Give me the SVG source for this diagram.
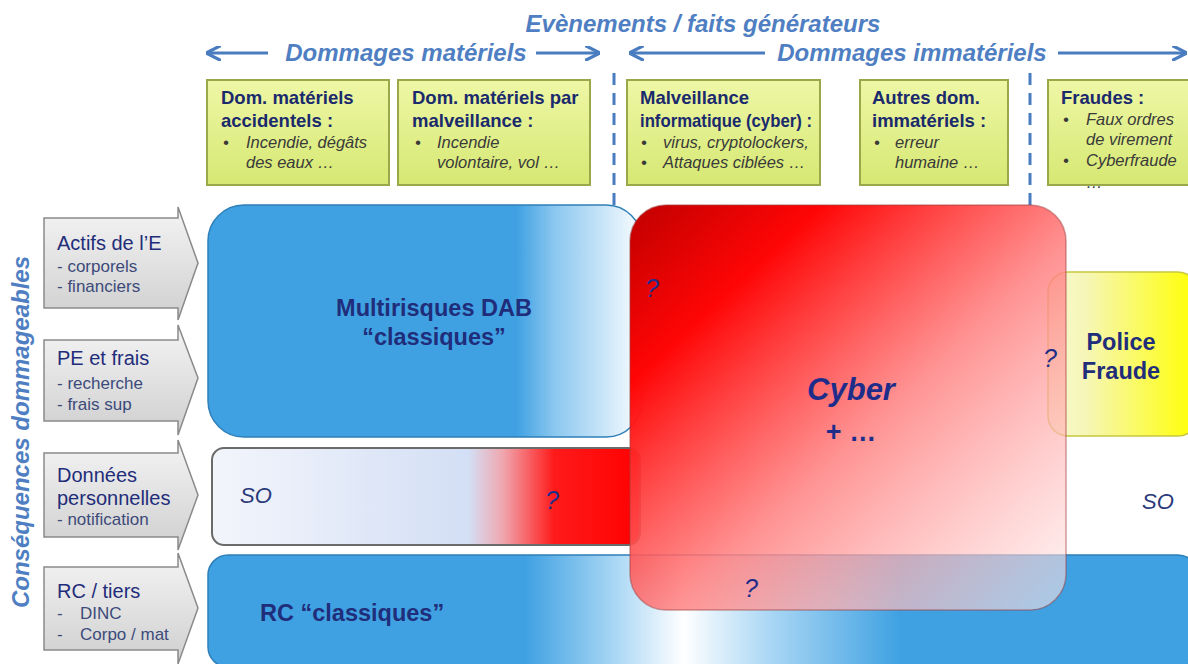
<svg xmlns="http://www.w3.org/2000/svg" width="1188" height="664" viewBox="0 0 1188 664">
<style>
.hdr{font-family:"Liberation Sans",Arial,sans-serif;font-weight:bold;font-style:italic;fill:#4f7fc2}
.bt{font-family:"Liberation Sans",Arial,sans-serif;font-weight:bold;font-size:18.5px;fill:#1a2a6c}
.bi{font-family:"Liberation Sans",Arial,sans-serif;font-style:italic;font-size:16.5px;fill:#3a3a3a}
.lt{font-family:"Liberation Sans",Arial,sans-serif;font-size:20px;fill:#1f2d7a}
.ls{font-family:"Liberation Sans",Arial,sans-serif;font-size:17px;fill:#3c4a7a}
.big{font-family:"Liberation Sans",Arial,sans-serif;font-weight:bold;font-size:23.5px;fill:#1f2d7a}
.q{font-family:"Liberation Sans",Arial,sans-serif;font-style:italic;font-size:25px;fill:#1f2d8a}
.so{font-family:"Liberation Sans",Arial,sans-serif;font-style:italic;font-size:22px;fill:#2a3a7a}
.ybox{fill:url(#yg);stroke:#9aa84a;stroke-width:2}
.garrow{fill:url(#gg);stroke:#8a8a8a;stroke-width:1.5}
.conn{stroke:#4a7cc0;stroke-width:3;fill:none;marker-end:url(#ah)}
.dash{stroke:#4a7cc0;stroke-width:3;stroke-dasharray:12,8;fill:none}
</style>
<defs>
<marker id="ah" viewBox="0 0 10 10" refX="8" refY="5" markerWidth="5" markerHeight="5" orient="auto-start-reverse" markerUnits="strokeWidth">
<path d="M0,0 L10,5 L0,10" fill="none" stroke="#4a7cc0" stroke-width="2.2"/>
</marker>
<linearGradient id="yg" x1="0" y1="0" x2="0" y2="1">
<stop offset="0" stop-color="#eef7a6"/><stop offset="1" stop-color="#d6e872"/>
</linearGradient>
<linearGradient id="gg" x1="0" y1="0" x2="0" y2="1">
<stop offset="0" stop-color="#f4f4f4"/><stop offset="1" stop-color="#cfcfcf"/>
</linearGradient>
<linearGradient id="dab" x1="0" y1="0" x2="1" y2="0">
<stop offset="0" stop-color="#3fa1e2"/><stop offset="0.71" stop-color="#3fa1e2"/><stop offset="0.8" stop-color="#8cc8f0"/><stop offset="0.97" stop-color="#eaf5fc"/><stop offset="1" stop-color="#f4f9fd"/>
</linearGradient>
<linearGradient id="sog" x1="0" y1="0" x2="1" y2="0">
<stop offset="0" stop-color="#f3f5fb"/><stop offset="0.6" stop-color="#d3dff5"/><stop offset="0.68" stop-color="#f0a6ae"/><stop offset="0.8" stop-color="#ff1a1a"/><stop offset="1" stop-color="#ff0000"/>
</linearGradient>
<linearGradient id="rcg" x1="0" y1="0" x2="1" y2="0">
<stop offset="0" stop-color="#3fa1e2"/><stop offset="0.32" stop-color="#3fa1e2"/><stop offset="0.41" stop-color="#a8d6f4"/><stop offset="0.48" stop-color="#ffffff"/><stop offset="0.57" stop-color="#a8d6f4"/><stop offset="0.7" stop-color="#3fa1e2"/><stop offset="1" stop-color="#3fa1e2"/>
</linearGradient>
<linearGradient id="cyg" x1="0" y1="0" x2="1" y2="1">
<stop offset="0" stop-color="#c00000" stop-opacity="1"/><stop offset="0.22" stop-color="#ff0505" stop-opacity="1"/><stop offset="0.55" stop-color="#ff8080" stop-opacity="0.85"/><stop offset="1" stop-color="#ffecec" stop-opacity="0.55"/>
</linearGradient>
<linearGradient id="pfg" x1="0" y1="0" x2="1" y2="0">
<stop offset="0" stop-color="#f8f8d0"/><stop offset="0.25" stop-color="#f6f6b8"/><stop offset="1" stop-color="#ffff00"/>
</linearGradient>
</defs>

<text class="hdr" x="703" y="32" font-size="24" text-anchor="middle">Evènements / faits générateurs</text>

<g id="connectors">
<line class="conn" x1="268" y1="53" x2="209" y2="53"/>
<line class="conn" x1="536" y1="53" x2="597" y2="53"/>
<line class="conn" x1="765" y1="53" x2="632" y2="53"/>
<line class="conn" x1="1058" y1="53" x2="1184" y2="53"/>
<line class="dash" x1="614" y1="73" x2="614" y2="208"/>
<line class="dash" x1="1030" y1="73" x2="1030" y2="208"/>
</g>
<text class="hdr" x="406" y="61" font-size="24" text-anchor="middle">Dommages matériels</text>
<text class="hdr" x="912" y="61" font-size="24" text-anchor="middle">Dommages immatériels</text>

<g id="ev1">
<rect class="ybox" x="207" y="80" width="182" height="105"/>
<text class="bt" x="221" y="104">Dom. matériels</text>
<text class="bt" x="221" y="127">accidentels :</text>
<text class="bi" x="223" y="148">•</text><text class="bi" x="246" y="148">Incendie, dégâts</text>
<text class="bi" x="246" y="168">des eaux …</text>
</g>
<g id="ev2">
<rect class="ybox" x="398" y="80" width="192" height="105"/>
<text class="bt" x="412" y="104">Dom. matériels par</text>
<text class="bt" x="412" y="127">malveillance :</text>
<text class="bi" x="415" y="148">•</text><text class="bi" x="437" y="148">Incendie</text>
<text class="bi" x="437" y="168">volontaire, vol …</text>
</g>
<g id="ev3">
<rect class="ybox" x="627" y="80" width="193" height="105"/>
<text class="bt" x="640" y="104">Malveillance</text>
<text class="bt" x="640" y="127" textLength="172" lengthAdjust="spacingAndGlyphs">informatique (cyber) :</text>
<text class="bi" x="641" y="148">•</text><text class="bi" x="663" y="148">virus, cryptolockers,</text>
<text class="bi" x="641" y="168">•</text><text class="bi" x="663" y="168">Attaques ciblées …</text>
</g>
<g id="ev4">
<rect class="ybox" x="860" y="80" width="148" height="105"/>
<text class="bt" x="872" y="104">Autres dom.</text>
<text class="bt" x="872" y="127">immatériels :</text>
<text class="bi" x="874" y="148">•</text><text class="bi" x="895" y="148">erreur</text>
<text class="bi" x="895" y="168">humaine …</text>
</g>
<g id="ev5">
<rect class="ybox" x="1048" y="80" width="145" height="105"/>
<text class="bt" x="1061" y="104">Fraudes :</text>
<text class="bi" x="1063" y="125">•</text><text class="bi" x="1086" y="125">Faux ordres</text>
<text class="bi" x="1086" y="145">de virement</text>
<text class="bi" x="1063" y="166">•</text><text class="bi" x="1086" y="166">Cyberfraude</text>
<text class="bi" x="1086" y="188">…</text>
</g>

<text class="hdr" font-size="24" text-anchor="middle" transform="translate(29,432) rotate(-90)">Conséquences dommageables</text>

<g id="c1">
<polygon class="garrow" points="44,218 178,218 178,207 198,263 178,320 178,308 44,308"/>
<text class="lt" x="57" y="250">Actifs de l’E</text>
<text class="ls" x="57" y="272">- corporels</text>
<text class="ls" x="57" y="292">- financiers</text>
</g>
<g id="c2">
<polygon class="garrow" points="44,340 178,340 178,325 198,378 178,435 178,421 44,421"/>
<text class="lt" x="57" y="365">PE et frais</text>
<text class="ls" x="57" y="389">- recherche</text>
<text class="ls" x="57" y="410">- frais sup</text>
</g>
<g id="c3">
<polygon class="garrow" points="44,453 178,453 178,440 198,495 178,550 178,537 44,537"/>
<text class="lt" x="57" y="482" font-size="18">Données</text>
<text class="lt" x="57" y="505" font-size="18">personnelles</text>
<text class="ls" x="57" y="525">- notification</text>
</g>
<g id="c4">
<polygon class="garrow" points="44,567 178,567 178,553 198,608 178,664 178,650 44,650"/>
<text class="lt" x="57" y="598">RC / tiers</text>
<text class="ls" x="57" y="619">-</text><text class="ls" x="80" y="619">DINC</text>
<text class="ls" x="57" y="640">-</text><text class="ls" x="80" y="640">Corpo / mat</text>
</g>

<g id="dab">
<rect x="208" y="205" width="434" height="232" rx="36" fill="url(#dab)" stroke="#2f7fb8" stroke-width="1.5"/>
<text class="big" x="434" y="316" text-anchor="middle">Multirisques DAB</text>
<text class="big" x="434" y="345" text-anchor="middle">“classiques”</text>
</g>
<g id="so">
<rect x="212" y="448" width="428" height="97" rx="12" fill="url(#sog)" stroke="#6a6a6a" stroke-width="2"/>
<text class="so" x="240" y="503">SO</text>
<text class="q" x="545" y="509">?</text>
</g>
<g id="rc">
<rect x="208" y="555" width="990" height="112" rx="20" fill="url(#rcg)" stroke="#2f7fb8" stroke-width="1.5"/>
<text class="big" x="260" y="621">RC “classiques”</text>
</g>
<g id="pf">
<rect x="1048" y="272" width="150" height="164" rx="20" fill="url(#pfg)" stroke="#c8c840" stroke-width="1.5"/>
<text class="big" x="1121" y="350" text-anchor="middle">Police</text>
<text class="big" x="1121" y="379" text-anchor="middle">Fraude</text>
</g>
<g id="cyber">
<rect x="630" y="205" width="436" height="405" rx="36" fill="url(#cyg)" stroke="#a04040" stroke-opacity="0.5" stroke-width="1.5"/>
<text class="hdr" x="851" y="400" font-size="31" text-anchor="middle" style="fill:#1f2d8a">Cyber</text>
<text class="big" x="851" y="441" text-anchor="middle" style="fill:#1f2d8a;font-size:27px">+ …</text>
<text class="q" x="645" y="297">?</text>
<text class="q" x="1043" y="367">?</text>
<text class="q" x="744" y="597">?</text>
</g>
<text class="so" x="1142" y="509">SO</text>
</svg>
